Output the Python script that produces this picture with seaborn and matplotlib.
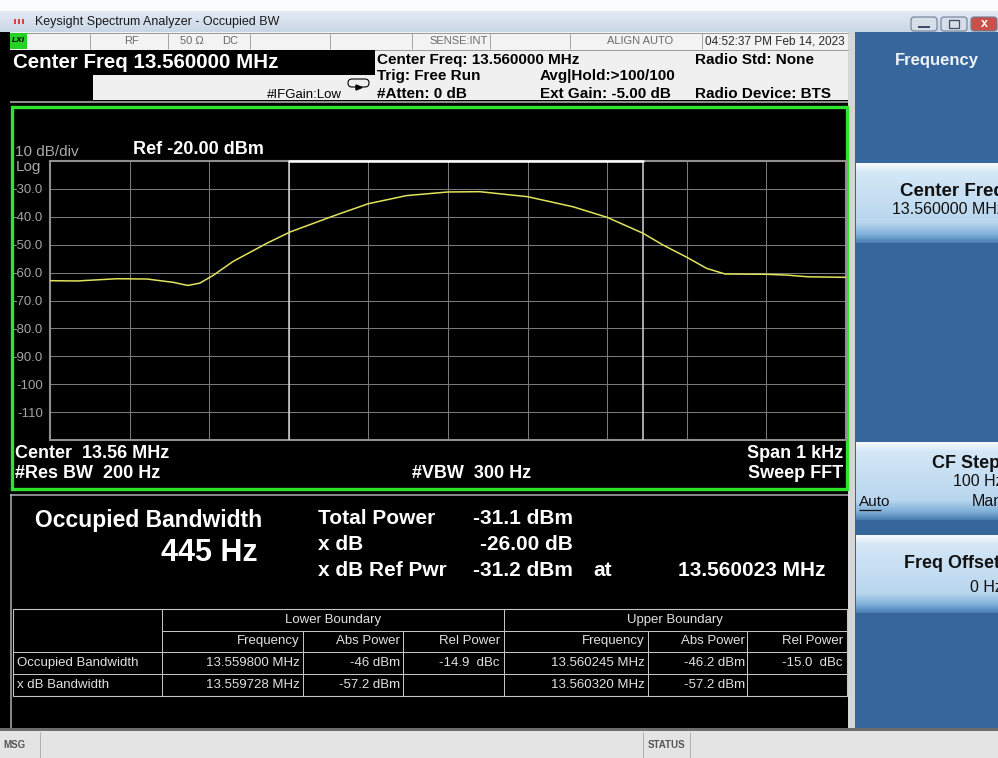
import numpy as np
import pandas as pd
import seaborn as sns
import matplotlib.pyplot as plt
from matplotlib.patches import Rectangle, FancyBboxPatch
from matplotlib.colors import LinearSegmentedColormap

# --- Data ---
# trace: offset from the 13.56 MHz centre (Hz) and level (dBm)
freq_offset_hz = [-500, -466, -416, -378, -345, -327, -312, -295, -270, -227, -198, -144,
                  -100, -52, 0, 40, 100, 157, 200, 245, 270, 300, 325, 348, 400, 426, 452, 500]
level_dbm = [-62.9, -63.0, -62.2, -62.3, -63.5, -64.6, -63.8, -61.0, -56.0, -49.4, -45.4, -39.7,
             -35.3, -32.4, -31.1, -31.0, -32.8, -36.4, -40.2, -45.9, -50.1, -54.5, -58.5, -60.5,
             -60.6, -60.9, -61.5, -61.7]
obw_edges_hz = [-200, 245]
y_ticks = [-30, -40, -50, -60, -70, -80, -90, -100, -110]
y_tick_labels = ['-30.0', '-40.0', '-50.0', '-60.0', '-70.0', '-80.0', '-90.0', '-100', '-110']

summary_labels = ['Total Power', 'x dB', 'x dB Ref Pwr']
summary_values = ['-31.1 dBm', '-26.00 dB', '-31.2 dBm']

table_rows = ['Occupied Bandwidth', 'x dB Bandwidth']
col_headers = ['Frequency', 'Abs Power', 'Rel Power', 'Frequency', 'Abs Power', 'Rel Power']
lower_freq = ['13.559800 MHz', '13.559728 MHz']
lower_abs = ['-46 dBm', '-57.2 dBm']
lower_rel = ['-14.9  dBc', '']
upper_freq = ['13.560245 MHz', '13.560320 MHz']
upper_abs = ['-46.2 dBm', '-57.2 dBm']
upper_rel = ['-15.0  dBc', '']

# --- Style ---
sns.set_theme(style="white")
plt.rcParams['font.family'] = ['Liberation Sans', 'DejaVu Sans']

W, H = 998, 758
fig = plt.figure(figsize=(W / 100, H / 100), dpi=100, facecolor='black')
bg = fig.add_axes([0, 0, 1, 1])
bg.set_autoscale_on(False)
bg.set_xlim(0, W)
bg.set_ylim(H, 0)
bg.axis('off')


def box(x0, y0, x1, y1, color, z=1, **kw):
    bg.add_patch(Rectangle((x0, y0), x1 - x0, y1 - y0, facecolor=color,
                           edgecolor=kw.pop('ec', 'none'), zorder=z, **kw))


def line(xs, ys, color, lw=1.0, z=2):
    bg.plot(xs, ys, color=color, lw=lw * 0.72, zorder=z, solid_capstyle='butt')


def label(x, y, s, size=10, color='white', weight='normal', ha='left', **kw):
    bg.text(x, y, s, fontsize=size, color=color, fontweight=weight, ha=ha,
            va='center', zorder=4, **kw)


def gradient(x0, y0, x1, y1, stops):
    cmap = LinearSegmentedColormap.from_list('g', stops)
    bg.imshow(np.linspace(0, 1, 80).reshape(-1, 1), cmap=cmap, aspect='auto',
              extent=[x0, x1, y1, y0], zorder=1.5)


# title bar
box(0, 0, W, 11, '#fbfcfe')
gradient(0, 11, W, 32, ['#e3eaf3', '#c9d6e6'])
box(12, 15, 27, 29, '#8a8f98')
for i in range(3):
    box(14 + i * 4, 19, 16 + i * 4, 24, '#d94040', z=2)
label(35, 22, 'Keysight Spectrum Analyzer - Occupied BW', size=9, color='#1a1a1a')
for x0, c in [(911, '#d6dee9'), (941, '#d6dee9'), (971, '#c9514a')]:
    bg.add_patch(FancyBboxPatch((x0, 17), 26, 14, boxstyle='round,pad=0,rounding_size=3',
                                facecolor=c, edgecolor='#6f7f96', lw=0.8, zorder=2))
line([918, 930], [27, 27], '#3e4e66', 2, z=3)
box(949, 20, 959, 28, 'none', ec='#3e4e66', lw=0.9, z=3)
label(984, 24, 'x', size=9, color='white', weight='bold', ha='center')

# status row
box(10, 32, 848, 50, '#f3f3f3')
line([10, 848], [32.5, 32.5], '#9a9a9a')
line([10, 848], [49.5, 49.5], '#9a9a9a')
for x in [90, 168, 250, 330, 412, 490, 570, 702]:
    line([x, x], [33, 49], '#a6a6a6')
box(10, 33, 27, 49, '#26d126', z=2)
label(18.5, 41, 'LXI', size=6, color='black', weight='bold', ha='center', style='italic')
label(132, 41, 'RF', size=8, color='#6c6c6c', ha='center')
label(180, 41, '50 Ω', size=8, color='#6c6c6c')
label(222, 41, 'DC', size=8, color='#6c6c6c')
label(488, 41, 'SENSE:INT', size=8, color='#6c6c6c', ha='right')
label(673, 41, 'ALIGN AUTO', size=8, color='#6c6c6c', ha='right')
label(705, 41, '04:52:37 PM Feb 14, 2023', size=8.5, color='#2a2a2a')

# header
box(10, 50, 848, 100, '#f0f0f0')
box(10, 50, 375, 75, 'black', z=2)
box(10, 75, 93, 100, 'black', z=2)
line([10, 848], [101.5, 101.5], '#8c8c8c', 2)
label(13, 62.5, 'Center Freq 13.560000 MHz', size=14.8, weight='bold')
label(377, 60, 'Center Freq: 13.560000 MHz', size=11, color='black', weight='bold')
label(377, 76, 'Trig: Free Run', size=11, color='black', weight='bold')
label(377, 94, '#Atten: 0 dB', size=11, color='black', weight='bold')
label(540, 76, 'Avg|Hold:>100/100', size=11, color='black', weight='bold')
label(540, 94, 'Ext Gain: -5.00 dB', size=11, color='black', weight='bold')
label(695, 60, 'Radio Std: None', size=11, color='black', weight='bold')
label(695, 94, 'Radio Device: BTS', size=11, color='black', weight='bold')
label(267, 95, '#IFGain:Low', size=9.5, color='black')
bg.add_patch(FancyBboxPatch((348, 79), 21, 8, boxstyle='round,pad=0,rounding_size=4',
                            facecolor='none', edgecolor='black', lw=0.8, zorder=3))
bg.fill([356, 362, 356], [85, 87.5, 90], color='black', zorder=3)

# green trace window frame
bg.add_patch(Rectangle((12, 106.5), 835.5, 382.5, facecolor='none',
                       edgecolor='#2ee52e', lw=2.4, zorder=3))
label(15, 152, '10 dB/div', size=11, color='#a8a8a8')
label(16, 167, 'Log', size=11, color='#a8a8a8')
label(133, 150, 'Ref -20.00 dBm', size=13, weight='bold')
label(15, 453, 'Center  13.56 MHz', size=13, weight='bold')
label(15, 473, '#Res BW  200 Hz', size=13, weight='bold')
label(412, 473, '#VBW  300 Hz', size=13, weight='bold')
label(843, 453, 'Span 1 kHz', size=13, weight='bold', ha='right')
label(843, 473, 'Sweep FFT', size=13, weight='bold', ha='right')

# results panel
line([10, 848], [494.5, 494.5], '#b4b4b4', 1.5)
line([11, 11], [494, 728], '#b4b4b4', 1.5)
label(35, 520, 'Occupied Bandwidth', size=16.5, weight='bold')
label(258, 553, '445 Hz', size=22, weight='bold', ha='right')
for i, (name, val) in enumerate(zip(summary_labels, summary_values)):
    yy = [518, 545, 570][i]
    label(318, yy, name, size=15, weight='bold')
    label(573, yy, val, size=15, weight='bold', ha='right')
label(593, 570, 'at', size=15, weight='bold')
label(678, 570, '13.560023 MHz', size=15, weight='bold')

# boundary table
tc = '#c4c4c4'
bg.add_patch(Rectangle((13, 609), 834, 87, facecolor='none', edgecolor=tc, lw=0.8, zorder=3))
line([162, 847], [631, 631], tc)
line([13, 847], [652, 652], tc)
line([13, 847], [674, 674], tc)
for x in [162, 504]:
    line([x, x], [609, 696], tc)
for x in [303, 403, 648, 747]:
    line([x, x], [631, 696], tc)
txt_c = '#e2e2e2'
label(333, 620, 'Lower Boundary', size=9.5, color=txt_c, ha='center')
label(675, 620, 'Upper Boundary', size=9.5, color=txt_c, ha='center')
col_right = [300, 400, 500, 645, 745, 843]
for xr, head in zip(col_right, col_headers):
    label(xr, 641, head, size=9.5, color=txt_c, ha='right')
columns = [lower_freq, lower_abs, lower_rel, upper_freq, upper_abs, upper_rel]
for r, name in enumerate(table_rows):
    yy = [663, 685][r]
    label(17, yy, name, size=9.5, color=txt_c)
    for xr, col in zip(col_right, columns):
        label(xr, yy, col[r], size=9.5, color=txt_c, ha='right')

# right-hand soft-key panel (labels run past the screen edge, as on the instrument)
box(848, 32, 855, 733, '#d6d6d6')
box(855, 32, W, 728, '#36669c')
label(937, 60, 'Frequency', size=12, color='#eef3f8', weight='bold', ha='center')
btn = [(0, '#f6fafd'), (0.12, '#d3e7f6'), (0.75, '#b9d6ee'), (0.9, '#7eafd8'), (1, '#4a80b3')]
for y0, y1 in [(163, 243), (442, 520), (535, 613)]:
    gradient(856, y0, W, y1, btn)
label(900, 192, 'Center Freq', size=13.5, color='#111111', weight='bold')
label(892, 209, '13.560000 MHz', size=11.5, color='#111111')
label(932, 463, 'CF Step', size=13, color='#111111', weight='bold')
label(953, 482, '100 Hz', size=11.5, color='#111111')
label(859, 502, 'Auto', size=11, color='#111111')
line([859, 881], [509.5, 509.5], '#111111', 1.2, z=4)
label(972, 502, 'Man', size=11.5, color='#111111')
label(904, 563, 'Freq Offset', size=13, color='#111111', weight='bold')
label(970, 587, '0 Hz', size=11.5, color='#111111')

# bottom message bar
box(0, 728, W, 731, '#6e6e6e')
box(0, 731, W, H, '#e4e4e4')
for x in [40, 643, 690]:
    line([x, x], [732, H], '#b0b0b0')
label(3, 745, 'MSG', size=7, color='#555555', weight='bold')
label(666.5, 745, 'STATUS', size=7, color='#555555', weight='bold', ha='center')

# --- Spectrum trace ---
df = pd.DataFrame({'offset_hz': freq_offset_hz, 'level_dbm': level_dbm})
ax = fig.add_axes([50 / W, 1 - 440 / H, 796 / W, 279 / H])
ax.set_facecolor('black')
sns.lineplot(data=df, x='offset_hz', y='level_dbm', ax=ax, color='#e2e25c', lw=1.1, zorder=5)
ax.set_xlim(-500, 500)
ax.set_ylim(-120, -20)
ax.set_xticks(np.arange(-400, 500, 100))
ax.set_xticklabels([])
ax.set_yticks(y_ticks, y_tick_labels)
ax.tick_params(axis='both', length=0, colors='#a4a4a4', labelsize=9.5)
ax.tick_params(axis='y', pad=5)
ax.set_xlabel('')
ax.set_ylabel('')
ax.grid(True, color='#7a7a7a', lw=0.75)
ax.set_axisbelow(True)
for s in ax.spines.values():
    s.set_color('#8e8e8e')
    s.set_linewidth(1.5)
for f in obw_edges_hz:
    ax.axvline(f, color='#d4d4d4', lw=1.1, zorder=3)
ax.plot(obw_edges_hz, [-20, -20], color='white', lw=1.8, clip_on=False, zorder=6)

fig.savefig('out.png', dpi=100, facecolor='black')
